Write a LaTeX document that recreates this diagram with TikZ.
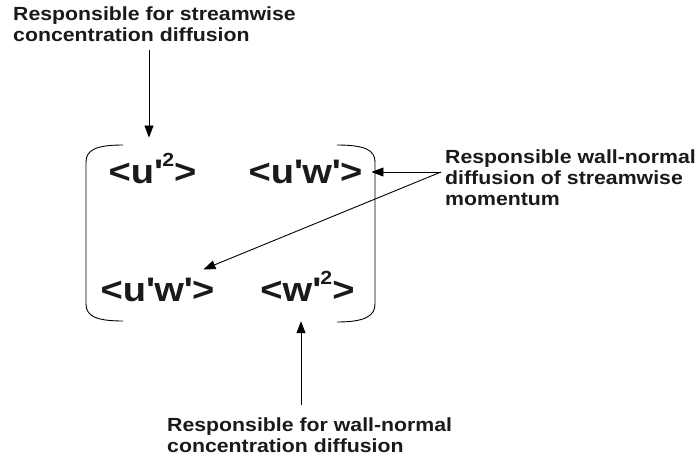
\documentclass[tikz,border=0pt]{standalone}
\usepackage{fontspec}
\setmainfont{Liberation Sans}[FakeStretch=1.12]
\usepackage{tikz}
\usetikzlibrary{arrows.meta,calc}
\definecolor{rsInk}{HTML}{1A1A1A}
\tikzset{
  note/.style={anchor=base west,align=left,inner sep=0pt,text=rsInk,
    font=\fontsize{19}{21}\selectfont\bfseries},
  entry/.style={anchor=base,inner sep=0pt,text=rsInk,
    font=\fontsize{34}{40}\selectfont\bfseries},
  pointer/.style={-{Triangle[length=12pt,width=9pt]},line width=0.9pt,draw=black},
  bracket/.style={line width=0.9pt,draw=black}
}
\newcommand{\prm}{\textquotesingle}
\newcommand{\sqtwo}{\raisebox{.5em}{\fontsize{19}{19}\selectfont 2}}

\begin{document}
\begin{tikzpicture}[x=1pt,y=-1pt]
\useasboundingbox (0,0) rectangle (697,466);
% labels (base = last line)
\node[note] (topnote) at (13,41) {Responsible for streamwise\\concentration diffusion};
\node[note] (sidenote) at (445,205) {Responsible wall-normal\\diffusion of streamwise\\momentum};
\node[note] (botnote) at (167,452) {Responsible for wall-normal\\concentration diffusion};
% tensor entries
\node[entry] (uu) at (152.5,183) {<u\prm\sqtwo>};
\node[entry] (uw) at (305.5,183) {<u\prm w\prm>};
\node[entry] (uwB) at (157.5,301) {<u\prm w\prm>};
\node[entry] (ww) at (307.5,301) {<w\prm\sqtwo>};
% brackets
\draw[bracket] (123,145) .. controls (96,145) and (86,150) .. (86,162) -- (86,304)
  .. controls (86,316) and (96,321) .. (123,321);
\draw[bracket] (337,145) .. controls (365,145) and (375,150) .. (375,162) -- (375,304)
  .. controls (375,316) and (365,322) .. (337,322);
% pointers
\coordinate (topTail) at (149,50);
\coordinate (fork) at (441,172);
\coordinate (botTail) at (301,405);
\draw[pointer] (topTail) -- ($(topTail |- uu.north)+(0,15pt)$);
\draw[pointer] (fork) -- ($(fork -| uw.east)+(9pt,0)$);
\draw[pointer] (fork) -- ($(uwB.north east)+(-11pt,8pt)$);
\draw[pointer] (botTail) -- ($(botTail |- ww.south)+(0,-20pt)$);
\end{tikzpicture}
\end{document}
